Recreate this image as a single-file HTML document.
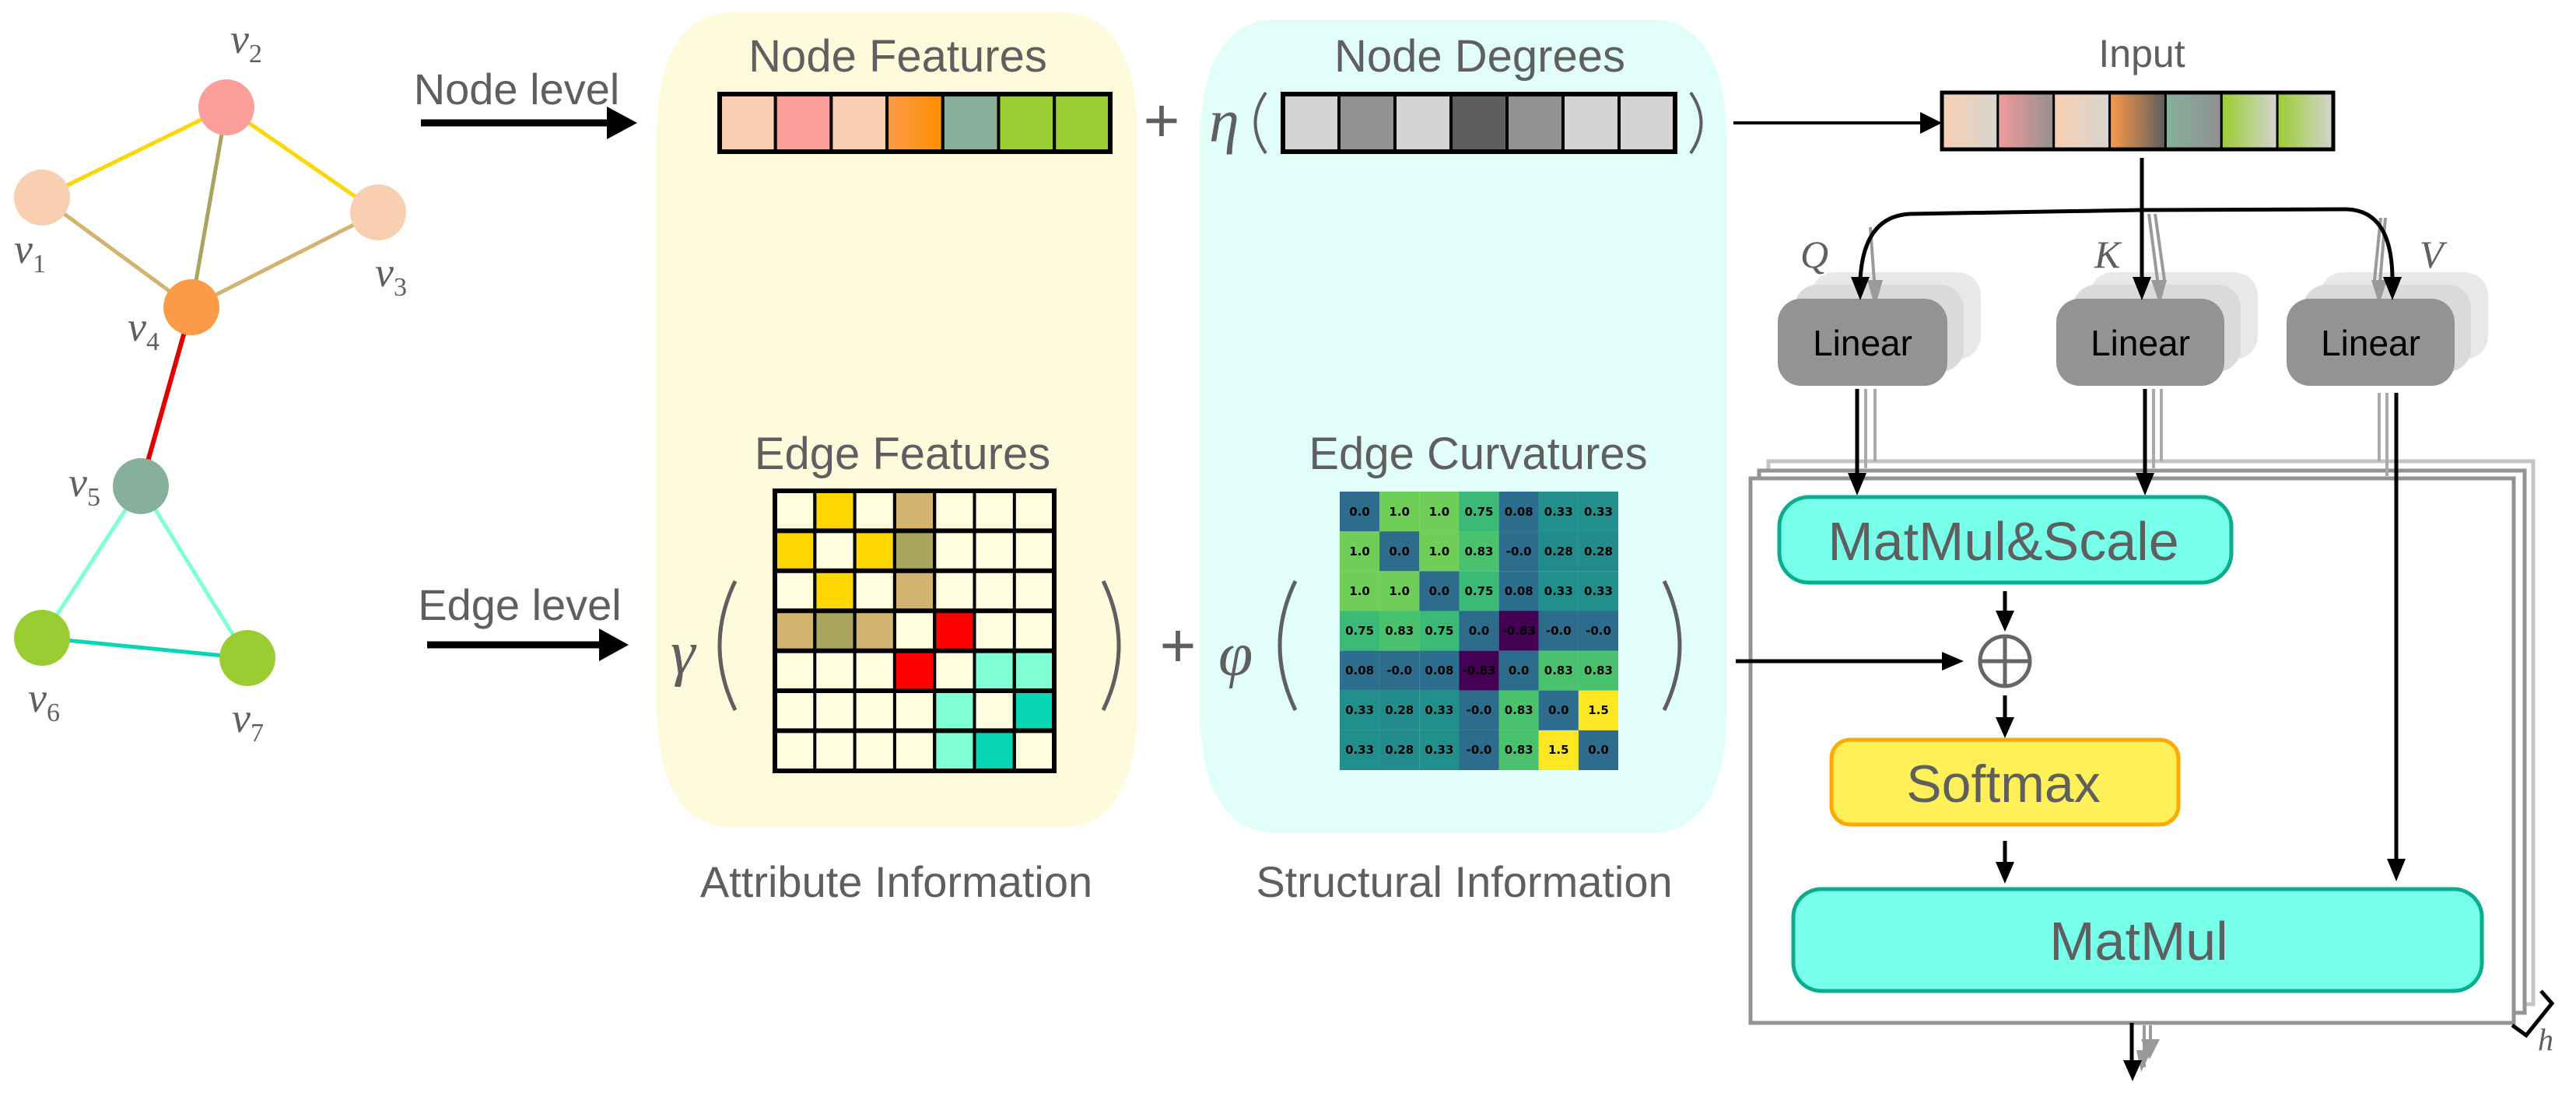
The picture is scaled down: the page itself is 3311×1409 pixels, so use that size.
<!DOCTYPE html>
<html><head><meta charset="utf-8">
<style>
html,body{margin:0;padding:0;background:#fff;}
svg{display:block;}
.lab{font-family:"Liberation Sans",Arial,sans-serif;fill:#5f5f5f;}
.ser{font-family:"Liberation Serif",serif;font-style:italic;fill:#5f5f5f;}
.num{font-family:"DejaVu Sans",sans-serif;font-weight:bold;font-size:15px;fill:#000;}
</style></head>
<body>
<svg width="3311" height="1409" viewBox="0 0 3311 1409" xmlns="http://www.w3.org/2000/svg">
<defs>
<linearGradient id="g1" x1="0" x2="1"><stop offset="0" stop-color="#F9CFB1"/><stop offset="1" stop-color="#D6D4D0"/></linearGradient>
<linearGradient id="g2" x1="0" x2="1"><stop offset="0" stop-color="#F29A9A"/><stop offset="1" stop-color="#959090"/></linearGradient>
<linearGradient id="g3" x1="0" x2="1"><stop offset="0" stop-color="#F9CFB1"/><stop offset="1" stop-color="#D6D4D0"/></linearGradient>
<linearGradient id="g4" x1="0" x2="1"><stop offset="0" stop-color="#FC9A48"/><stop offset="1" stop-color="#5E5E5E"/></linearGradient>
<linearGradient id="g5" x1="0" x2="1"><stop offset="0" stop-color="#86B09C"/><stop offset="1" stop-color="#909090"/></linearGradient>
<linearGradient id="g6" x1="0" x2="1"><stop offset="0" stop-color="#9ACD32"/><stop offset="1" stop-color="#D4D4D0"/></linearGradient>
<linearGradient id="go" x1="0" x2="1"><stop offset="0" stop-color="#FC9C4A"/><stop offset="1" stop-color="#FF8C00"/></linearGradient>
</defs>

<!-- Graph -->
<g stroke-linecap="round">
<line x1="54" y1="254" x2="291" y2="138" stroke="#FFD700" stroke-width="5"/>
<line x1="291" y1="138" x2="486" y2="273" stroke="#FFD700" stroke-width="5"/>
<line x1="54" y1="254" x2="246" y2="395" stroke="#D2B36F" stroke-width="5"/>
<line x1="291" y1="138" x2="246" y2="395" stroke="#A9A55F" stroke-width="5"/>
<line x1="486" y1="273" x2="246" y2="395" stroke="#D2B36F" stroke-width="5"/>
<line x1="246" y1="395" x2="181" y2="625" stroke="#E00000" stroke-width="6"/>
<line x1="181" y1="625" x2="54" y2="820" stroke="#7FFFD4" stroke-width="5"/>
<line x1="181" y1="625" x2="318" y2="846" stroke="#7FFFD4" stroke-width="5"/>
<line x1="54" y1="820" x2="318" y2="846" stroke="#06D6B4" stroke-width="5"/>
</g>
<circle cx="54" cy="254" r="36" fill="#F9CFB1"/>
<circle cx="291" cy="138" r="36" fill="#FB9E99"/>
<circle cx="486" cy="273" r="36" fill="#F9CFB1"/>
<circle cx="246" cy="395" r="36" fill="#FD9A48"/>
<circle cx="181" cy="625" r="36" fill="#86B09C"/>
<circle cx="54" cy="820" r="36" fill="#9ACD32"/>
<circle cx="318" cy="846" r="36" fill="#9ACD32"/>
<g class="ser" font-size="54">
<text x="296" y="68">v<tspan font-size="34" font-style="normal" dy="12">2</tspan></text>
<text x="18" y="338">v<tspan font-size="34" font-style="normal" dy="12">1</tspan></text>
<text x="482" y="368">v<tspan font-size="34" font-style="normal" dy="12">3</tspan></text>
<text x="164" y="438">v<tspan font-size="34" font-style="normal" dy="12">4</tspan></text>
<text x="88" y="638">v<tspan font-size="34" font-style="normal" dy="12">5</tspan></text>
<text x="36" y="915">v<tspan font-size="34" font-style="normal" dy="12">6</tspan></text>
<text x="298" y="941">v<tspan font-size="34" font-style="normal" dy="12">7</tspan></text>
</g>

<!-- Panels -->
<path d="M944,16 H1362 Q1462,16 1462,180 V900 Q1462,1064 1362,1064 H944 Q844,1064 844,900 V180 Q844,16 944,16 Z" fill="#FEFADC"/>
<path d="M1642,25 H2120 Q2220,25 2220,190 V906 Q2220,1071 2120,1071 H1642 Q1542,1071 1542,906 V190 Q1542,25 1642,25 Z" fill="#E1FEF9"/>

<!-- Node level -->
<text class="lab" x="664" y="134" font-size="56" text-anchor="middle">Node level</text>
<line x1="541" y1="158" x2="785" y2="158" stroke="#000" stroke-width="9"/>
<polygon points="780,137 819,158 780,179" fill="#000"/>

<text class="lab" x="1154" y="92" font-size="58" text-anchor="middle">Node Features</text>
<g stroke="#000" stroke-width="4">
<rect x="925" y="121" width="71.7" height="74" fill="#F9CFB1"/>
<rect x="996.7" y="121" width="71.7" height="74" fill="#FB9E99"/>
<rect x="1068.4" y="121" width="71.7" height="74" fill="#F9CFB1"/>
<rect x="1140.1" y="121" width="71.7" height="74" fill="url(#go)"/>
<rect x="1211.8" y="121" width="71.7" height="74" fill="#86B09C"/>
<rect x="1283.5" y="121" width="71.7" height="74" fill="#9ACD32"/>
<rect x="1355.2" y="121" width="71.8" height="74" fill="#9ACD32"/>
<rect x="925" y="121" width="502" height="74" fill="none" stroke-width="6"/>
</g>
<text class="lab" x="1493" y="182" font-size="80" text-anchor="middle">+</text>
<text class="ser" x="1554" y="182" font-size="78">η</text>
<path d="M1627,119 Q1600,158 1627,197" fill="none" stroke="#5f5f5f" stroke-width="4"/>

<text class="lab" x="1902" y="92" font-size="58" text-anchor="middle">Node Degrees</text>
<g stroke="#000" stroke-width="4">
<rect x="1649" y="121" width="72" height="74" fill="#D3D3D3"/>
<rect x="1721" y="121" width="72" height="74" fill="#929292"/>
<rect x="1793" y="121" width="72" height="74" fill="#D3D3D3"/>
<rect x="1865" y="121" width="72" height="74" fill="#5E5E5E"/>
<rect x="1937" y="121" width="72" height="74" fill="#929292"/>
<rect x="2009" y="121" width="72" height="74" fill="#D3D3D3"/>
<rect x="2081" y="121" width="72" height="74" fill="#D3D3D3"/>
<rect x="1649" y="121" width="504" height="74" fill="none" stroke-width="6"/>
</g>
<path d="M2173,119 Q2200,158 2173,197" fill="none" stroke="#5f5f5f" stroke-width="4"/>
<line x1="2228" y1="158" x2="2470" y2="158" stroke="#000" stroke-width="4"/>
<polygon points="2468,144 2496,158 2468,172" fill="#000"/>

<!-- Edge level -->
<text class="lab" x="668" y="797" font-size="56" text-anchor="middle">Edge level</text>
<line x1="549" y1="829" x2="775" y2="829" stroke="#000" stroke-width="9"/>
<polygon points="770,808 808,829 770,850" fill="#000"/>

<text class="lab" x="1160" y="603" font-size="58" text-anchor="middle">Edge Features</text>
<text class="lab" x="1900" y="603" font-size="58" text-anchor="middle">Edge Curvatures</text>

<text class="ser" x="862" y="866" font-size="80">γ</text>
<path d="M945,747 Q905,830 945,913" fill="none" stroke="#5f5f5f" stroke-width="5"/>
<path d="M1418,747 Q1458,830 1418,913" fill="none" stroke="#5f5f5f" stroke-width="5"/>
<text class="lab" x="1514" y="857" font-size="80" text-anchor="middle">+</text>
<text class="ser" x="1566" y="868" font-size="80">φ</text>
<path d="M1665,747 Q1625,830 1665,913" fill="none" stroke="#5f5f5f" stroke-width="5"/>
<path d="M2139,747 Q2179,830 2139,913" fill="none" stroke="#5f5f5f" stroke-width="5"/>

<!-- Edge features grid -->
<g stroke="#000" stroke-width="4">
<rect x="996" y="631" width="359" height="360" fill="#FFFDE0"/>
<rect x="1047.3" y="631" width="51.3" height="51.4" fill="#FFD700"/>
<rect x="1149.9" y="631" width="51.3" height="51.4" fill="#D2B36F"/>
<rect x="996" y="682.4" width="51.3" height="51.4" fill="#FFD700"/>
<rect x="1098.6" y="682.4" width="51.3" height="51.4" fill="#FFD700"/>
<rect x="1149.9" y="682.4" width="51.3" height="51.4" fill="#A9A55F"/>
<rect x="1047.3" y="733.8" width="51.3" height="51.4" fill="#FFD700"/>
<rect x="1149.9" y="733.8" width="51.3" height="51.4" fill="#D2B36F"/>
<rect x="996" y="785.2" width="51.3" height="51.4" fill="#D2B36F"/>
<rect x="1047.3" y="785.2" width="51.3" height="51.4" fill="#A9A55F"/>
<rect x="1098.6" y="785.2" width="51.3" height="51.4" fill="#D2B36F"/>
<rect x="1201.2" y="785.2" width="51.3" height="51.4" fill="#FF0000"/>
<rect x="1149.9" y="836.6" width="51.3" height="51.4" fill="#FF0000"/>
<rect x="1252.5" y="836.6" width="51.3" height="51.4" fill="#7FFFD4"/>
<rect x="1303.8" y="836.6" width="51.2" height="51.4" fill="#7FFFD4"/>
<rect x="1201.2" y="888" width="51.3" height="51.4" fill="#7FFFD4"/>
<rect x="1303.8" y="888" width="51.2" height="51.4" fill="#06D6B4"/>
<rect x="1201.2" y="939.4" width="51.3" height="51.6" fill="#7FFFD4"/>
<rect x="1252.5" y="939.4" width="51.3" height="51.6" fill="#06D6B4"/>
<g fill="none">
<line x1="1047.3" y1="631" x2="1047.3" y2="991"/><line x1="1098.6" y1="631" x2="1098.6" y2="991"/>
<line x1="1149.9" y1="631" x2="1149.9" y2="991"/><line x1="1201.2" y1="631" x2="1201.2" y2="991"/>
<line x1="1252.5" y1="631" x2="1252.5" y2="991"/><line x1="1303.8" y1="631" x2="1303.8" y2="991"/>
<line x1="996" y1="682.4" x2="1355" y2="682.4" stroke-width="6"/><line x1="996" y1="733.8" x2="1355" y2="733.8" stroke-width="6"/>
<line x1="996" y1="785.2" x2="1355" y2="785.2" stroke-width="6"/><line x1="996" y1="836.6" x2="1355" y2="836.6" stroke-width="6"/>
<line x1="996" y1="888" x2="1355" y2="888" stroke-width="6"/><line x1="996" y1="939.4" x2="1355" y2="939.4" stroke-width="6"/>
<rect x="996" y="631" width="359" height="360" stroke-width="6"/>
</g>
</g>

<!-- Curvature matrix -->
<g>
<rect x="1722" y="632" width="51.2" height="51.2" fill="#2E6C8E"/>
<rect x="1773.1" y="632" width="51.2" height="51.2" fill="#6ECE58"/>
<rect x="1824.3" y="632" width="51.2" height="51.2" fill="#6ECE58"/>
<rect x="1875.4" y="632" width="51.2" height="51.2" fill="#3BB977"/>
<rect x="1926.6" y="632" width="51.2" height="51.2" fill="#2C6E8E"/>
<rect x="1977.7" y="632" width="51.2" height="51.2" fill="#21908C"/>
<rect x="2028.9" y="632" width="51.1" height="51.2" fill="#21908C"/>
<rect x="1722" y="683.1" width="51.2" height="51.2" fill="#6ECE58"/>
<rect x="1773.1" y="683.1" width="51.2" height="51.2" fill="#2E6C8E"/>
<rect x="1824.3" y="683.1" width="51.2" height="51.2" fill="#6ECE58"/>
<rect x="1875.4" y="683.1" width="51.2" height="51.2" fill="#4AC16D"/>
<rect x="1926.6" y="683.1" width="51.2" height="51.2" fill="#2E6C8E"/>
<rect x="1977.7" y="683.1" width="51.2" height="51.2" fill="#228C8D"/>
<rect x="2028.9" y="683.1" width="51.1" height="51.2" fill="#228C8D"/>
<rect x="1722" y="734.3" width="51.2" height="51.2" fill="#6ECE58"/>
<rect x="1773.1" y="734.3" width="51.2" height="51.2" fill="#6ECE58"/>
<rect x="1824.3" y="734.3" width="51.2" height="51.2" fill="#2E6C8E"/>
<rect x="1875.4" y="734.3" width="51.2" height="51.2" fill="#3BB977"/>
<rect x="1926.6" y="734.3" width="51.2" height="51.2" fill="#2C6E8E"/>
<rect x="1977.7" y="734.3" width="51.2" height="51.2" fill="#21908C"/>
<rect x="2028.9" y="734.3" width="51.1" height="51.2" fill="#21908C"/>
<rect x="1722" y="785.4" width="51.2" height="51.2" fill="#3BB977"/>
<rect x="1773.1" y="785.4" width="51.2" height="51.2" fill="#4AC16D"/>
<rect x="1824.3" y="785.4" width="51.2" height="51.2" fill="#3BB977"/>
<rect x="1875.4" y="785.4" width="51.2" height="51.2" fill="#2E6C8E"/>
<rect x="1926.6" y="785.4" width="51.2" height="51.2" fill="#440154"/>
<rect x="1977.7" y="785.4" width="51.2" height="51.2" fill="#2E6C8E"/>
<rect x="2028.9" y="785.4" width="51.1" height="51.2" fill="#2E6C8E"/>
<rect x="1722" y="836.6" width="51.2" height="51.2" fill="#2C6E8E"/>
<rect x="1773.1" y="836.6" width="51.2" height="51.2" fill="#2E6C8E"/>
<rect x="1824.3" y="836.6" width="51.2" height="51.2" fill="#2C6E8E"/>
<rect x="1875.4" y="836.6" width="51.2" height="51.2" fill="#440154"/>
<rect x="1926.6" y="836.6" width="51.2" height="51.2" fill="#2E6C8E"/>
<rect x="1977.7" y="836.6" width="51.2" height="51.2" fill="#4AC16D"/>
<rect x="2028.9" y="836.6" width="51.1" height="51.2" fill="#4AC16D"/>
<rect x="1722" y="887.7" width="51.2" height="51.2" fill="#21908C"/>
<rect x="1773.1" y="887.7" width="51.2" height="51.2" fill="#228C8D"/>
<rect x="1824.3" y="887.7" width="51.2" height="51.2" fill="#21908C"/>
<rect x="1875.4" y="887.7" width="51.2" height="51.2" fill="#2E6C8E"/>
<rect x="1926.6" y="887.7" width="51.2" height="51.2" fill="#4AC16D"/>
<rect x="1977.7" y="887.7" width="51.2" height="51.2" fill="#2E6C8E"/>
<rect x="2028.9" y="887.7" width="51.1" height="51.2" fill="#FDE725"/>
<rect x="1722" y="938.9" width="51.2" height="51.1" fill="#21908C"/>
<rect x="1773.1" y="938.9" width="51.2" height="51.1" fill="#228C8D"/>
<rect x="1824.3" y="938.9" width="51.2" height="51.1" fill="#21908C"/>
<rect x="1875.4" y="938.9" width="51.2" height="51.1" fill="#2E6C8E"/>
<rect x="1926.6" y="938.9" width="51.2" height="51.1" fill="#4AC16D"/>
<rect x="1977.7" y="938.9" width="51.2" height="51.1" fill="#FDE725"/>
<rect x="2028.9" y="938.9" width="51.1" height="51.1" fill="#2E6C8E"/>
</g>
<g class="num" text-anchor="middle">
<text x="1747.6" y="663">0.0</text><text x="1798.7" y="663">1.0</text><text x="1849.9" y="663">1.0</text><text x="1901" y="663">0.75</text><text x="1952.2" y="663">0.08</text><text x="2003.3" y="663">0.33</text><text x="2054.5" y="663">0.33</text>
<text x="1747.6" y="714">1.0</text><text x="1798.7" y="714">0.0</text><text x="1849.9" y="714">1.0</text><text x="1901" y="714">0.83</text><text x="1952.2" y="714">-0.0</text><text x="2003.3" y="714">0.28</text><text x="2054.5" y="714">0.28</text>
<text x="1747.6" y="765">1.0</text><text x="1798.7" y="765">1.0</text><text x="1849.9" y="765">0.0</text><text x="1901" y="765">0.75</text><text x="1952.2" y="765">0.08</text><text x="2003.3" y="765">0.33</text><text x="2054.5" y="765">0.33</text>
<text x="1747.6" y="816">0.75</text><text x="1798.7" y="816">0.83</text><text x="1849.9" y="816">0.75</text><text x="1901" y="816">0.0</text><text x="1952.2" y="816">-0.83</text><text x="2003.3" y="816">-0.0</text><text x="2054.5" y="816">-0.0</text>
<text x="1747.6" y="867">0.08</text><text x="1798.7" y="867">-0.0</text><text x="1849.9" y="867">0.08</text><text x="1901" y="867">-0.83</text><text x="1952.2" y="867">0.0</text><text x="2003.3" y="867">0.83</text><text x="2054.5" y="867">0.83</text>
<text x="1747.6" y="918">0.33</text><text x="1798.7" y="918">0.28</text><text x="1849.9" y="918">0.33</text><text x="1901" y="918">-0.0</text><text x="1952.2" y="918">0.83</text><text x="2003.3" y="918">0.0</text><text x="2054.5" y="918">1.5</text>
<text x="1747.6" y="969">0.33</text><text x="1798.7" y="969">0.28</text><text x="1849.9" y="969">0.33</text><text x="1901" y="969">-0.0</text><text x="1952.2" y="969">0.83</text><text x="2003.3" y="969">1.5</text><text x="2054.5" y="969">0.0</text>
</g>

<text class="lab" x="1152" y="1153" font-size="56" text-anchor="middle">Attribute Information</text>
<text class="lab" x="1882" y="1153" font-size="56" text-anchor="middle">Structural Information</text>

<!-- Input bar -->
<text class="lab" x="2753" y="86" font-size="50" text-anchor="middle">Input</text>
<g stroke="#000" stroke-width="3">
<rect x="2496" y="119" width="71.9" height="73" fill="url(#g1)"/>
<rect x="2567.9" y="119" width="71.9" height="73" fill="url(#g2)"/>
<rect x="2639.7" y="119" width="71.9" height="73" fill="url(#g3)"/>
<rect x="2711.6" y="119" width="71.9" height="73" fill="url(#g4)"/>
<rect x="2783.4" y="119" width="71.9" height="73" fill="url(#g5)"/>
<rect x="2855.3" y="119" width="71.9" height="73" fill="url(#g6)"/>
<rect x="2927.1" y="119" width="71.9" height="73" fill="url(#g6)"/>
<rect x="2496" y="119" width="503" height="73" fill="none" stroke-width="5"/>
</g>

<g>
<rect x="2328" y="350" width="218" height="112" rx="30" fill="#E8E8E8"/>
<rect x="2306" y="366" width="218" height="112" rx="30" fill="#DADADA"/>
<rect x="2686" y="350" width="216" height="112" rx="30" fill="#E8E8E8"/>
<rect x="2664" y="366" width="216" height="112" rx="30" fill="#DADADA"/>
<rect x="2982" y="350" width="216" height="112" rx="30" fill="#E8E8E8"/>
<rect x="2960" y="366" width="216" height="112" rx="30" fill="#DADADA"/>
</g>
<g stroke="#9a9a9a" stroke-width="4" fill="#9a9a9a">
<line x1="2404" y1="292" x2="2410" y2="375"/>
<line x1="2762" y1="275" x2="2775" y2="375"/>
<line x1="2770" y1="275" x2="2782" y2="360"/>
<line x1="3066" y1="280" x2="3058" y2="375"/>
<line x1="3060" y1="280" x2="3052" y2="360"/>
</g>
<g fill="#9a9a9a">
<polygon points="2400,360 2420,360 2410,395"/>
<polygon points="2765,360 2785,360 2776,392"/>
<polygon points="3048,360 3068,360 3058,392"/>
</g>
<rect x="2285" y="384" width="218" height="112" rx="30" fill="#939393"/>
<rect x="2643" y="384" width="216" height="112" rx="30" fill="#939393"/>
<rect x="2939" y="384" width="216" height="112" rx="30" fill="#939393"/>
<g font-family="Liberation Sans,Arial,sans-serif" font-size="46" fill="#000" text-anchor="middle">
<text x="2394" y="457">Linear</text><text x="2751" y="457">Linear</text><text x="3047" y="457">Linear</text>
</g>
<g class="ser" font-size="50">
<text x="2314" y="344">Q</text><text x="2692" y="344">K</text><text x="3110" y="344">V</text>
</g>

<g stroke="#000" stroke-width="5" fill="none">
<line x1="2753" y1="203" x2="2753" y2="360"/>
<path d="M2753,270 L2455,275 Q2395,278 2391,360"/>
<path d="M2753,270 L3015,269 Q3075,270 3075,360"/>
</g>
<g fill="#000">
<polygon points="2379,356 2403,356 2391,386"/>
<polygon points="2741,356 2765,356 2753,386"/>
<polygon points="3063,356 3087,356 3075,386"/>
</g>

<rect x="2273" y="593" width="983" height="698" fill="#fff" stroke="#C4C4C4" stroke-width="5"/>
<rect x="2261" y="605" width="984" height="697" fill="#fff" stroke="#939393" stroke-width="5"/>
<rect x="2250" y="615" width="981" height="700" fill="#fff" stroke="#939393" stroke-width="5"/>

<g stroke="#aaa" stroke-width="4">
<line x1="2398" y1="500" x2="2398" y2="602"/><line x1="2410" y1="500" x2="2410" y2="593"/>
<line x1="2768" y1="500" x2="2768" y2="602"/><line x1="2778" y1="500" x2="2778" y2="593"/>
<line x1="3058" y1="505" x2="3058" y2="593"/><line x1="3068" y1="505" x2="3068" y2="612"/>
</g>
<g stroke="#000" stroke-width="5">
<line x1="2387" y1="500" x2="2387" y2="612"/>
<line x1="2757" y1="500" x2="2757" y2="612"/>
<line x1="3080" y1="505" x2="3080" y2="1108"/>
<line x1="2577" y1="760" x2="2577" y2="790"/>
<line x1="2577" y1="894" x2="2577" y2="926"/>
<line x1="2577" y1="1081" x2="2577" y2="1112"/>
<line x1="2231" y1="850" x2="2500" y2="850"/>
<line x1="2740" y1="1315" x2="2740" y2="1365"/>
</g>
<g fill="#000">
<polygon points="2375,608 2399,608 2387,637"/>
<polygon points="2745,608 2769,608 2757,637"/>
<polygon points="3068,1104 3092,1104 3080,1133"/>
<polygon points="2565,785 2589,785 2577,812"/>
<polygon points="2565,922 2589,922 2577,949"/>
<polygon points="2565,1108 2589,1108 2577,1136"/>
<polygon points="2496,838 2496,862 2524,850"/>
</g>

<rect x="2287" y="639" width="581" height="110" rx="38" fill="#78FFE9" stroke="#0AAE8E" stroke-width="5"/>
<text class="lab" x="2575" y="720" font-size="70" text-anchor="middle">MatMul&amp;Scale</text>
<circle cx="2577" cy="850" r="32" fill="none" stroke="#666" stroke-width="5"/>
<line x1="2545" y1="850" x2="2609" y2="850" stroke="#666" stroke-width="5"/>
<line x1="2577" y1="818" x2="2577" y2="882" stroke="#666" stroke-width="5"/>
<rect x="2354" y="951" width="446" height="109" rx="24" fill="#FFF05A" stroke="#FFAA00" stroke-width="5"/>
<text class="lab" x="2575" y="1031" font-size="68" text-anchor="middle">Softmax</text>
<rect x="2305" y="1143" width="885" height="131" rx="36" fill="#78FFE9" stroke="#0AAE8E" stroke-width="5"/>
<text class="lab" x="2749" y="1234" font-size="70" text-anchor="middle">MatMul</text>

<g stroke="#9a9a9a" stroke-width="4">
<line x1="2756" y1="1318" x2="2756" y2="1372"/><line x1="2764" y1="1318" x2="2764" y2="1345"/>
</g>
<polygon points="2752,1336 2776,1336 2763,1362" fill="#9a9a9a"/>
<polygon points="2746,1350 2766,1350 2752,1378" fill="#9a9a9a"/>
<polygon points="2729,1363 2753,1363 2741,1390" fill="#000"/>

<path d="M3266,1274 L3280,1290 L3247,1331 L3229,1318" fill="none" stroke="#000" stroke-width="5"/>
<text class="ser" x="3262" y="1350" font-size="40">h</text>
</svg>
</body></html>
